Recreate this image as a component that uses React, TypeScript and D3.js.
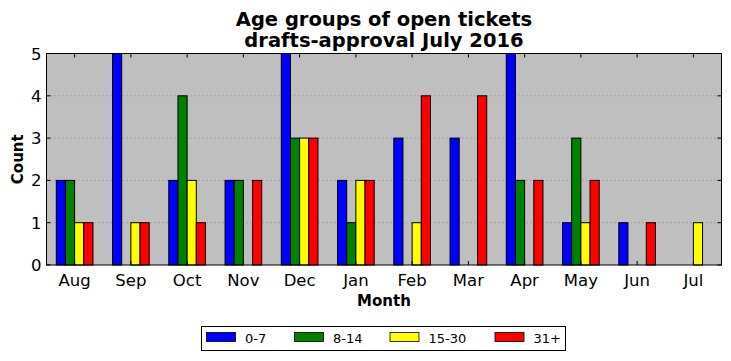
import * as d3 from "d3";

const months = ["Aug", "Sep", "Oct", "Nov", "Dec", "Jan", "Feb", "Mar", "Apr", "May", "Jun", "Jul"];
const groups = ["0-7", "8-14", "15-30", "31+"];
const colors = ["#0000ff", "#008000", "#ffff00", "#ff0000"];

// counts per age group, one value per month
const age0to7 = [2, 5, 2, 2, 5, 2, 3, 3, 5, 1, 1, 0];
const age8to14 = [2, 0, 4, 2, 3, 1, 0, 0, 2, 3, 0, 0];
const age15to30 = [1, 1, 2, 0, 3, 2, 1, 0, 0, 1, 0, 1];
const age31plus = [1, 1, 1, 2, 3, 2, 4, 4, 2, 2, 1, 0];
const series = [age0to7, age8to14, age15to30, age31plus];

const yTicks = [0, 1, 2, 3, 4, 5];

const W = 731;
const H = 361;
const m = { top: 53.5, right: 9.5, bottom: 96, left: 46.5 };

export default function App() {
  const innerW = W - m.left - m.right;
  const innerH = H - m.top - m.bottom;

  const x = d3.scaleBand<string>().domain(months).range([0, innerW]).padding(0);
  const y = d3.scaleLinear().domain([0, 5]).range([innerH, 0]);
  const barW = x.bandwidth() * 0.163;

  const font = "'DejaVu Sans', sans-serif";
  const legendX = [206.5, 294.5, 390, 495];

  return (
    <svg width={W} height={H} style={{ position: "absolute", left: 0, top: 0, fontFamily: font }}>
      <rect width={W} height={H} fill="#ffffff" />
      <text x={384} y={26} textAnchor="middle" fontSize={19.5} fontWeight="bold">
        Age groups of open tickets
      </text>
      <text x={384} y={47} textAnchor="middle" fontSize={19.5} fontWeight="bold">
        drafts-approval July 2016
      </text>
      <g transform={`translate(${m.left},${m.top})`}>
        <rect width={innerW} height={innerH} fill="#bfbfbf" />
        {yTicks.slice(1, -1).map((t) => (
          <line key={t} x1={0} x2={innerW} y1={y(t)} y2={y(t)} stroke="#808080" strokeWidth={0.8} strokeDasharray="1,3" />
        ))}
        {series.map((vals, si) =>
          vals.map((v, mi) => {
            if (v === 0) return null;
            const cx = (x(months[mi]) as number) + x.bandwidth() / 2;
            const bx = cx - 2 * barW + si * barW;
            return (
              <rect
                key={`${si}-${mi}`}
                x={bx}
                y={y(v)}
                width={barW}
                height={innerH - y(v)}
                fill={colors[si]}
                stroke="#000"
                strokeWidth={1}
              />
            );
          })
        )}
        {/* ticks inward */}
        {months.map((mo) => {
          const cx = (x(mo) as number) + x.bandwidth() / 2;
          return (
            <g key={mo}>
              <line x1={cx} x2={cx} y1={innerH} y2={innerH - 4} stroke="#000" />
              <line x1={cx} x2={cx} y1={0} y2={4} stroke="#000" />
              <text x={cx} y={innerH + 21} textAnchor="middle" fontSize={16.5}>
                {mo}
              </text>
            </g>
          );
        })}
        {yTicks.map((t) => (
          <g key={t}>
            <line x1={0} x2={4} y1={y(t)} y2={y(t)} stroke="#000" />
            <line x1={innerW} x2={innerW - 4} y1={y(t)} y2={y(t)} stroke="#000" />
            <text x={-5} y={y(t) + 6} textAnchor="end" fontSize={16.5}>
              {t}
            </text>
          </g>
        ))}
        <rect width={innerW} height={innerH} fill="none" stroke="#000" strokeWidth={1} />
        <text x={innerW / 2} y={innerH + 40.5} textAnchor="middle" fontSize={15} fontWeight="bold">
          Month
        </text>
        <text transform={`translate(-24,${innerH / 2}) rotate(-90)`} textAnchor="middle" fontSize={15} fontWeight="bold">
          Count
        </text>
      </g>
      <rect x={201.5} y={326.5} width={364} height={24} fill="#fff" stroke="#000" strokeWidth={1} />
      {groups.map((g, i) => (
        <g key={g}>
          <rect x={legendX[i]} y={332.5} width={29} height={9} fill={colors[i]} stroke="#000" strokeWidth={0.8} />
          <text x={legendX[i] + 38.5} y={343} fontSize={13}>
            {g}
          </text>
        </g>
      ))}
    </svg>
  );
}
